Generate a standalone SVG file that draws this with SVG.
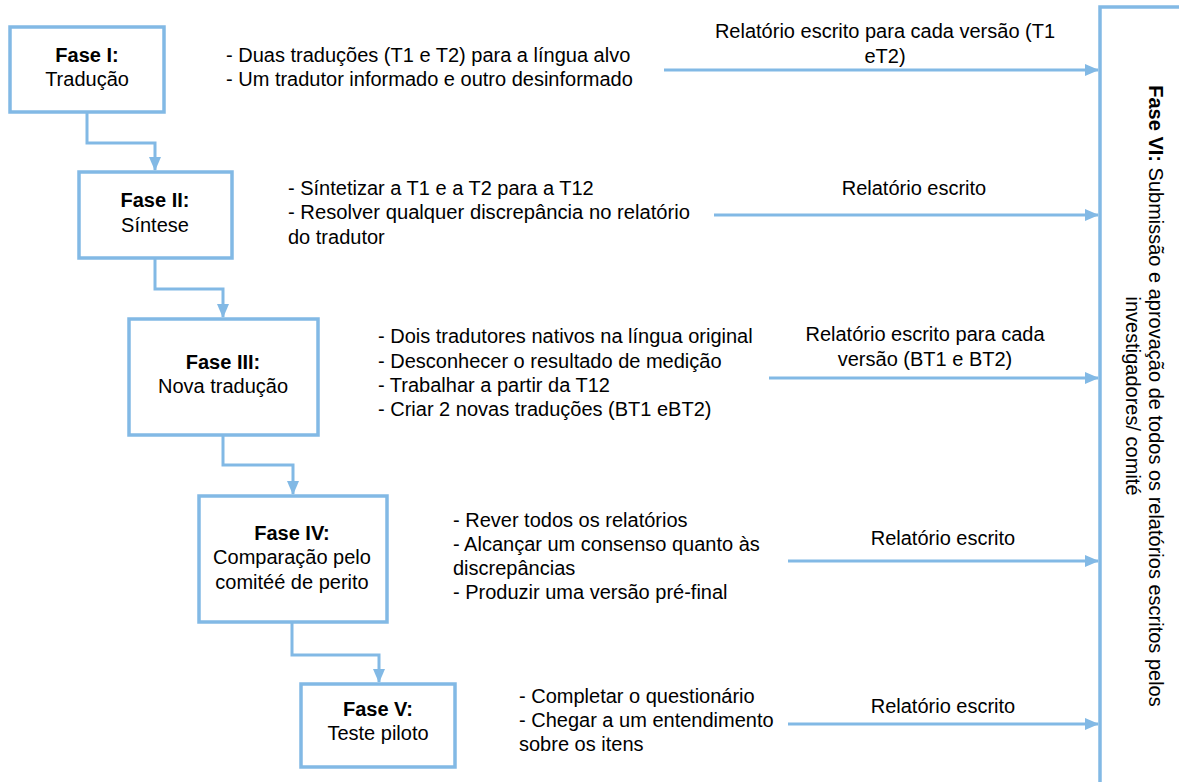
<svg xmlns="http://www.w3.org/2000/svg" width="1179" height="782" viewBox="0 0 1179 782">
<style>
  .box{fill:#fff;stroke:#82B9E5;stroke-width:3.5}
  .con{fill:none;stroke:#82B9E5;stroke-width:3}
  text{font-family:"Liberation Sans",Arial,sans-serif;font-size:20px;fill:#000}
  .b{font-weight:bold}
  .m{text-anchor:middle}
</style>
<defs>
  <marker id="ah" markerWidth="14" markerHeight="12" refX="13" refY="6" orient="auto" markerUnits="userSpaceOnUse">
    <path d="M0,0 L14,6 L0,12 z" fill="#82B9E5"/>
  </marker>
</defs>
<rect width="1179" height="782" fill="#fff"/>

<g id="connectors">
  <path class="con" d="M87,113 V143 H155 V170" marker-end="url(#ah)"/>
  <path class="con" d="M155,258 V289 H223 V317" marker-end="url(#ah)"/>
  <path class="con" d="M223,435 V465 H293 V494" marker-end="url(#ah)"/>
  <path class="con" d="M292,622 V655 H379 V682" marker-end="url(#ah)"/>
  <path class="con" d="M664,70 H1098" marker-end="url(#ah)"/>
  <path class="con" d="M714,215 H1098" marker-end="url(#ah)"/>
  <path class="con" d="M769,378 H1098" marker-end="url(#ah)"/>
  <path class="con" d="M788,561 H1098" marker-end="url(#ah)"/>
  <path class="con" d="M788,724 H1098" marker-end="url(#ah)"/>
</g>

<g id="fase1">
  <rect class="box" x="10" y="27" width="154" height="85"/>
  <text class="m b" x="87" y="62">Fase I:</text>
  <text class="m" x="87" y="86">Tradução</text>
</g>
<g id="fase2">
  <rect class="box" x="79" y="172" width="153" height="86"/>
  <text class="m b" x="155" y="207">Fase II:</text>
  <text class="m" x="155" y="232">Síntese</text>
</g>
<g id="fase3">
  <rect class="box" x="129" y="319" width="189" height="116"/>
  <text class="m b" x="223" y="369">Fase III:</text>
  <text class="m" x="223" y="393">Nova tradução</text>
</g>
<g id="fase4">
  <rect class="box" x="199" y="496" width="188" height="126"/>
  <text class="m b" x="292" y="540">Fase IV:</text>
  <text class="m" x="292" y="564">Comparação pelo</text>
  <text class="m" x="292" y="589">comitéé de perito</text>
</g>
<g id="fase5">
  <rect class="box" x="301" y="684" width="154" height="83"/>
  <text class="m b" x="378" y="716">Fase V:</text>
  <text class="m" x="378" y="740">Teste piloto</text>
</g>
<g id="fase6">
  <rect class="box" x="1100" y="7" width="200" height="900"/>
  <g transform="translate(1149,396) rotate(90)">
    <text class="m" x="0" y="0"><tspan class="b">Fase VI:</tspan> Submissão e aprovação de todos os relatórios escritos pelos</text>
    <text class="m" x="0" y="23">investigadores/ comité</text>
  </g>
</g>

<g id="notes1">
  <text x="226" y="62">- Duas traduções (T1 e T2) para a língua alvo</text>
  <text x="226" y="86">- Um tradutor informado e outro desinformado</text>
  <text class="m" x="885" y="38">Relatório escrito para cada versão (T1</text>
  <text class="m" x="885" y="63">eT2)</text>
</g>
<g id="notes2">
  <text x="288" y="195">- Síntetizar a T1 e a T2 para a T12</text>
  <text x="288" y="219" textLength="402" lengthAdjust="spacingAndGlyphs">- Resolver qualquer discrepância no relatório</text>
  <text x="288" y="244">do tradutor</text>
  <text class="m" x="914" y="195">Relatório escrito</text>
</g>
<g id="notes3">
  <text x="378" y="343">- Dois tradutores nativos na língua original</text>
  <text x="378" y="368">- Desconhecer o resultado de medição</text>
  <text x="378" y="392">- Trabalhar a partir da T12</text>
  <text x="378" y="416">- Criar 2 novas traduções (BT1 eBT2)</text>
  <text class="m" x="925" y="341">Relatório escrito para cada</text>
  <text class="m" x="925" y="366">versão (BT1 e BT2)</text>
</g>
<g id="notes4">
  <text x="453" y="527">- Rever todos os relatórios</text>
  <text x="453" y="551">- Alcançar um consenso quanto às</text>
  <text x="453" y="575">discrepâncias</text>
  <text x="453" y="599">- Produzir uma versão pré-final</text>
  <text class="m" x="943" y="545">Relatório escrito</text>
</g>
<g id="notes5">
  <text x="519" y="703">- Completar o questionário</text>
  <text x="519" y="727">- Chegar a um entendimento</text>
  <text x="519" y="751">sobre os itens</text>
  <text class="m" x="943" y="713">Relatório escrito</text>
</g>
</svg>
